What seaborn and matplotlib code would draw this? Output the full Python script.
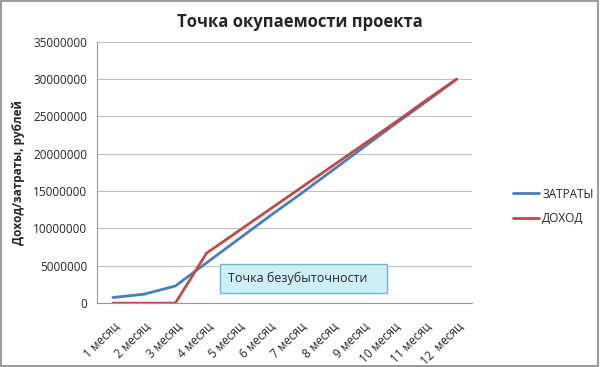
import pandas as pd
import seaborn as sns
import matplotlib.pyplot as plt
from matplotlib.patches import FancyBboxPatch

# данные
months = ['1 месяц', '2 месяц', '3 месяц', '4 месяц', '5 месяц', '6 месяц',
          '7 месяц', '8 месяц', '9 месяц', '10 месяц', '11 месяц', '12  месяц']
costs = [750000, 1200000, 2300000, 5400000, 8500000, 11600000,
         14600000, 17700000, 20800000, 23900000, 26900000, 30000000]
income = [0, 0, 0, 6700000, 9600000, 12500000,
          15400000, 18300000, 21200000, 24100000, 27100000, 30000000]

df = pd.DataFrame({'month': months * 2,
                   'value': costs + income,
                   'series': ['ЗАТРАТЫ'] * 12 + ['ДОХОД'] * 12})
df['pos'] = list(range(12)) * 2

sns.set_style('white')
plt.rcParams['font.family'] = ['Open Sans', 'DejaVu Sans']

fig = plt.figure(figsize=(6, 3.67), dpi=100)
ax = fig.add_axes([0.162, 0.174, 0.625, 0.712])

sns.lineplot(data=df, x='pos', y='value', hue='series', ax=ax,
             palette={'ЗАТРАТЫ': '#4a7ebb', 'ДОХОД': '#be4b48'}, linewidth=2)

ax.set_xlim(-0.5, 11.5)
ax.set_ylim(0, 35000000)
ax.set_yticks(range(0, 35000001, 5000000))
ax.set_yticklabels([str(v) for v in range(0, 35000001, 5000000)], fontsize=8.5)
ax.set_xticks(range(12))
ax.set_xticklabels(months, rotation=45, ha='right', rotation_mode='anchor', fontsize=8.5)
ax.tick_params(axis='x', length=0, pad=12)
ax.tick_params(axis='y', length=4, width=0.8, color='#999999', pad=3)
ax.grid(axis='y', color='#bfbfbf', linewidth=0.8)
ax.set_axisbelow(True)
for s in ['top', 'right']:
    ax.spines[s].set_visible(False)
for s in ['left', 'bottom']:
    ax.spines[s].set_color('#999999')
    ax.spines[s].set_linewidth(0.8)

ax.set_xlabel('')
ax.set_ylabel('Доход/затраты, рублей', fontsize=8.5, fontweight='bold', labelpad=6)
fig.text(0.5, 0.94, 'Точка окупаемости проекта', ha='center', va='center',
         fontsize=12, fontweight='bold')

leg = ax.legend(loc='center left', bbox_to_anchor=(1.08, 0.37), frameon=False,
                fontsize=8.5, handlelength=2.2, labelspacing=1.0, handletextpad=0.3)

# подпись точки безубыточности
box = FancyBboxPatch((220 / 600, 1 - 293 / 367), 167 / 600, 29 / 367,
                     boxstyle='square,pad=0', transform=fig.transFigure,
                     facecolor='#cdeff8', edgecolor='#6fb7cf', linewidth=1)
fig.patches.append(box)
fig.text(228 / 600, 1 - 278 / 367, 'Точка безубыточности', ha='left', va='center',
         fontsize=9)

# рамка диаграммы
frame = plt.Rectangle((0.002, 0.003), 0.995, 0.993, transform=fig.transFigure,
                      fill=False, edgecolor='#888888', linewidth=1.2)
fig.patches.append(frame)

fig.savefig('out.png', dpi=100)
